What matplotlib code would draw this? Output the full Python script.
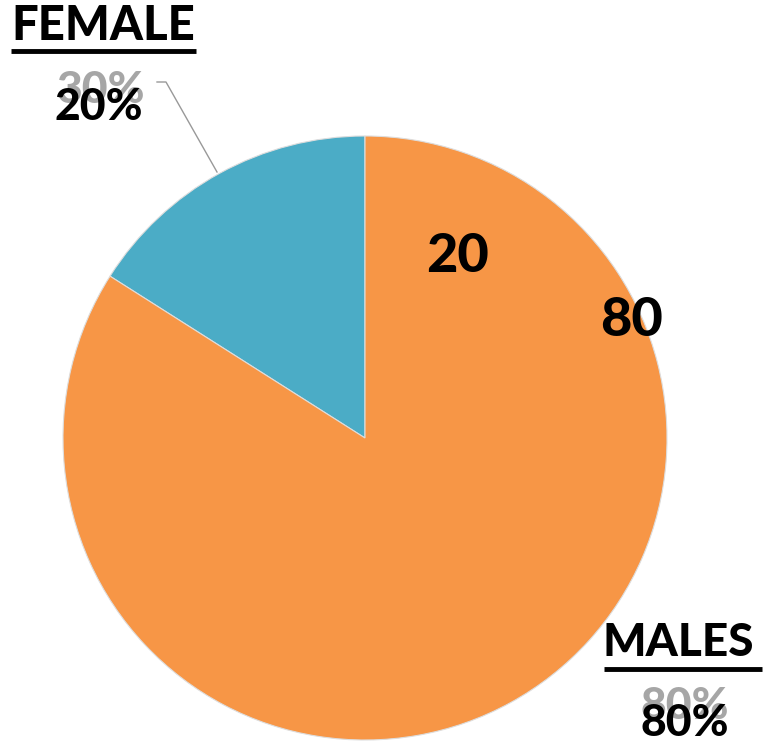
import matplotlib.pyplot as plt
from matplotlib.patches import Rectangle

# data
labels = ["FEMALE", "MALES"]
shares = [16, 84]            # drawn wedge sizes
pct_text = ["20%", "80%"]    # black percentage labels
ghost_text = ["30%", "80%"]  # grey labels behind
inner_values = ["20", "80"]
colors = ["#4BACC6", "#F79646"]

W, H = 767, 748
fig = plt.figure(figsize=(W / 100, H / 100), dpi=100)
ax = fig.add_axes([0, 0, 1, 1])

def py(y):
    # pixel row from top -> data y
    return H - y

ax.pie(shares, colors=colors, startangle=90, counterclock=True,
       center=(365, py(438)), radius=302, frame=True,
       wedgeprops=dict(linewidth=0.8, edgecolor="#dddddd"))
ax.set_xlim(0, W)
ax.set_ylim(0, H)
ax.set_aspect("equal")
ax.axis("off")

font = "Lato"
wt = "black"

# category titles with underline
ax.text(11, py(4), labels[0], fontsize=34, fontweight=wt, family=font,
        ha="left", va="top", color="black")
ax.plot([11, 196], [py(51), py(51)], color="black", lw=3.5, solid_capstyle="butt")
ax.text(603, py(622), labels[1], fontsize=33, fontweight=wt, family=font,
        ha="left", va="top", color="black")
ax.plot([604, 762], [py(669), py(669)], color="black", lw=3.5, solid_capstyle="butt")

# percentage labels: grey one behind, black one clipped
ax.text(57, py(70), ghost_text[0], fontsize=32, fontweight=wt, family=font,
        ha="left", va="top", color="#a6a6a6")
t = ax.text(54, py(87), pct_text[0], fontsize=32, fontweight=wt, family=font,
            ha="left", va="top", color="black")
t.set_clip_path(Rectangle((0, py(122)), 300, 40, transform=ax.transData))

ax.text(640, py(686), ghost_text[1], fontsize=32, fontweight=wt, family=font,
        ha="left", va="top", color="#a6a6a6")
t = ax.text(640, py(703), pct_text[1], fontsize=32, fontweight=wt, family=font,
            ha="left", va="top", color="black")

# leader line for the female label
ax.plot([157, 166, 217], [py(82), py(82), py(172)], color="#999999", lw=1)

# values inside the pie
ax.text(426, py(232), inner_values[0], fontsize=39, fontweight=wt, family=font,
        ha="left", va="top", color="black")
ax.text(600, py(296), inner_values[1], fontsize=39, fontweight=wt, family=font,
        ha="left", va="top", color="black")

fig.savefig("out.png", dpi=100)
